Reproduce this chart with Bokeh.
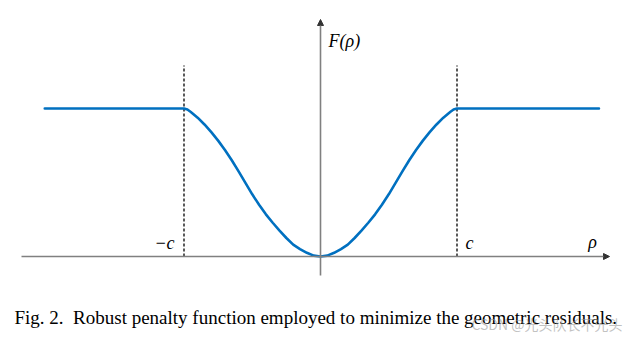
from bokeh.plotting import figure
from bokeh.models import Range1d, Arrow, NormalHead
from bokeh.core.properties import value
from bokeh.embed import file_html
from bokeh.resources import INLINE

# ---- data (rho in units of c, F normalised to plateau = 1)
rho_right = [0.0, 0.05, 0.1, 0.15, 0.2, 0.25, 0.3, 0.35, 0.4, 0.45, 0.5,
             0.55, 0.6, 0.65, 0.7, 0.75, 0.8, 0.85, 0.9, 0.95, 0.975, 1.0]
F_right = [0.0, 0.006, 0.025, 0.05, 0.08, 0.125, 0.175, 0.228, 0.285, 0.35, 0.42,
           0.497, 0.575, 0.65, 0.72, 0.783, 0.84, 0.892, 0.938, 0.976, 0.993, 1.0]
rho_left = [-1.0, -0.975, -0.95, -0.9, -0.85, -0.8, -0.75, -0.7, -0.65, -0.6, -0.55, -0.5,
            -0.45, -0.4, -0.35, -0.3, -0.25, -0.2, -0.15, -0.1, -0.05]
F_left = [1.0, 0.993, 0.976, 0.938, 0.892, 0.84, 0.783, 0.72, 0.65, 0.575, 0.497, 0.42,
          0.35, 0.285, 0.228, 0.175, 0.125, 0.08, 0.05, 0.025, 0.006]
rho_left_end = -2.02
rho_right_end = 2.04
plateau = 1.0
c_marks = [-1.0, 1.0]
c_labels = ["\u2212c", "c"]
caption = "Fig. 2.\u00a0 Robust penalty function employed to minimize the geometric residuals."
watermark = "CSDN @光头队长不光头"

rho = [rho_left_end] + rho_left + rho_right + [rho_right_end]
F = [plateau] + F_left + F_right + [plateau]

# ---- figure: pixel x = 320 + 136.5*rho ; pixel y = 256 - 148*F
W, H = 638, 339
sx, sy, ox, oy = 136.5, 148.0, 320.0, 256.0
def px_x(x):
    return (x - ox) / sx
def px_y(y):
    return (oy - y) / sy

p = figure(width=W, height=H, output_backend="svg", toolbar_location=None,
           x_range=Range1d(px_x(0), px_x(W)), y_range=Range1d(px_y(H), px_y(0)),
           x_axis_type=None, y_axis_type=None, min_border=0)
p.grid.visible = False
p.outline_line_color = None
p.background_fill_color = "white"
p.border_fill_color = "white"

axis_col = "#808080"
p.add_layout(Arrow(x_start=px_x(21), y_start=0, x_end=px_x(609), y_end=0,
                   line_color=axis_col, line_width=1.6,
                   end=NormalHead(size=6, fill_color="#333333", line_color="#333333", line_width=1)))
p.add_layout(Arrow(x_start=0, y_start=px_y(275), x_end=0, y_end=px_y(19),
                   line_color=axis_col, line_width=1.6,
                   end=NormalHead(size=6, fill_color="#333333", line_color="#333333", line_width=1)))

for cm in c_marks:
    p.line([cm, cm], [0, px_y(65)], line_color="black", line_width=1.3, line_dash="3 2")

p.line(rho, F, line_color="#0070C0", line_width=2.6, line_join="round", line_cap="round")

lab_font = value("Liberation Serif")
p.text(x=[px_x(328)], y=[px_y(40)], text=["F(\u03c1)"], text_font=lab_font,
       text_font_style="italic", text_font_size="18px", text_baseline="middle",
       text_align="left", text_color="black")
p.text(x=[px_x(164), px_x(469)], y=[px_y(242), px_y(242)], text=c_labels,
       text_font=lab_font, text_font_style="italic", text_font_size="18px",
       text_baseline="middle", text_align="center", text_color="black")
p.text(x=[px_x(592)], y=[px_y(241)], text=["\u03c1"], text_font=lab_font,
       text_font_style="italic", text_font_size="18px", text_baseline="middle",
       text_align="center", text_color="black")

p.text(x=[px_x(14)], y=[px_y(317)], text=[caption], text_font=value("Liberation Serif"),
       text_font_size="19px", text_baseline="middle", text_align="left", text_color="black")
p.text(x=[px_x(622)], y=[px_y(323)], text=[watermark], text_font=value("Noto Sans CJK SC"),
       text_font_size="14px", text_baseline="middle", text_align="right",
       text_color="#999999", text_alpha=0.6)

open("out.html", "w").write(file_html(p, INLINE))
